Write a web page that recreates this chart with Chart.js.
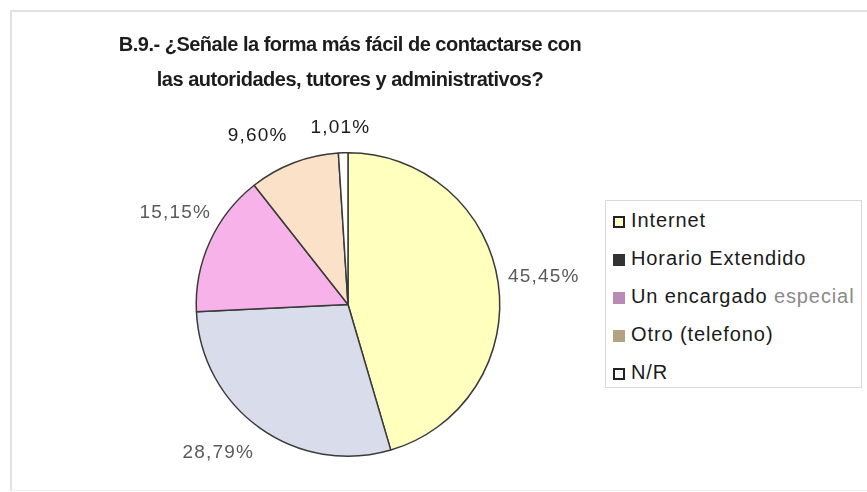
<!DOCTYPE html>
<html>
<head>
<meta charset="utf-8">
<script src="https://cdn.jsdelivr.net/npm/chart.js@4/dist/chart.umd.min.js"></script>
<style>
  body { margin: 0; background: #fff; }
  #wrap { position: relative; width: 867px; height: 492px; overflow: hidden; }
  #frame { position: absolute; left: 10px; top: 10px; width: 870px; height: 478px;
           border-left: 2px solid #e2e2e2; border-top: 2px solid #e2e2e2; border-bottom: 1px solid #f0f0f0; }
  #title { position: absolute; left: 0; width: 700px; top: 27px; text-align: center;
           font-family: "Liberation Sans", Arial, sans-serif; font-weight: bold; font-size: 20px;
           line-height: 35px; color: #1c1c1c; letter-spacing: -0.5px; }
  #legend { position: absolute; left: 605px; top: 200px; width: 257px; height: 188px;
            border: 1px solid #d8d8d8; box-sizing: border-box; background: #fff;
            font-family: "Liberation Sans", Arial, sans-serif; font-size: 20px; color: #1a1a1a; }
  .item { position: absolute; left: 7px; height: 22px; line-height: 22px; white-space: nowrap; letter-spacing: 0.9px; }
  .box { display: inline-block; width: 12px; height: 12px; margin-right: 6px; vertical-align: -1px; box-sizing: border-box; }
  canvas { position: absolute; left: 0; top: 0; }
</style>
</head>
<body>
<div id="wrap">
  <div id="frame"></div>
  <canvas id="pie" width="867" height="492"></canvas>
  <div id="title">B.9.- ¿Señale la forma más fácil de contactarse con<br>las autoridades, tutores y administrativos?</div>
  <div id="legend"></div>
</div>
<script>
const categories = ['Internet', 'Horario Extendido', 'Un encargado especial', 'Otro (telefono)', 'N/R'];
const values = [45.45, 28.79, 15.15, 9.60, 1.01];
const valueLabels = ['45,45%', '28,79%', '15,15%', '9,60%', '1,01%'];

const sliceColors = ['#FFFFBE', '#D9DCEB', '#F6B2E9', '#FCE1C9', '#FFFFFF'];
const legendColors = ['#FFFFC8', '#333333', '#B88AB4', '#B3A382', '#FFFFFF'];
const legendBorders = ['#222', '#333', '#B88AB4', '#B3A382', '#222'];
const labelColors = ['#5a5a5a', '#5a5a5a', '#5a5a5a', '#1a1a1a', '#1a1a1a'];
// distance of each label from the pie edge, and small nudges
const labelGap = [46, 34, 49, 34, 25];
const labelShift = [[0, 0], [-22, -3], [10, -8], [-24, 5], [-2, 0]];

function renderLegend() {
    const legend = document.getElementById('legend');
    for (let i = 0; i < categories.length; ++i) {
        const row = document.createElement('div');
        row.className = 'item';
        row.style.top = (8 + i * 38) + 'px';
        const box = document.createElement('span');
        box.className = 'box';
        box.style.background = legendColors[i];
        box.style.border = '2px solid ' + legendBorders[i];
        row.appendChild(box);
        if (categories[i] === 'Un encargado especial') {
            row.appendChild(document.createTextNode('Un encargado '));
            const s = document.createElement('span');
            s.style.color = '#8a8a8a';
            s.textContent = 'especial';
            row.appendChild(s);
        } else {
            row.appendChild(document.createTextNode(categories[i]));
        }
        legend.appendChild(row);
    }
}

const sliceLabels = {
    id: 'sliceLabels',
    afterDatasetsDraw(chart) {
        const ctx = chart.ctx;
        const arcs = chart.getDatasetMeta(0).data;
        ctx.save();
        ctx.font = '19px "Liberation Sans", Arial, sans-serif';
        ctx.letterSpacing = '1.2px';
        ctx.textAlign = 'center';
        ctx.textBaseline = 'middle';
        arcs.forEach(function (arc, i) {
            const mid = (arc.startAngle + arc.endAngle) / 2;
            const r = arc.outerRadius + labelGap[i];
            const x = arc.x + Math.cos(mid) * r + labelShift[i][0];
            const y = arc.y + Math.sin(mid) * r + labelShift[i][1];
            ctx.fillStyle = labelColors[i];
            ctx.fillText(valueLabels[i], x, y);
        });
        ctx.restore();
    }
};

function renderChart() {
    const chartID = document.getElementById('pie').getContext('2d');
    new Chart(chartID, {
        type: 'pie',
        data: {
            labels: categories,
            datasets: [{
                data: values,
                backgroundColor: sliceColors,
                borderColor: '#3a3a3a',
                borderWidth: 1.5
            }]
        },
        options: {
            responsive: false,
            animation: false,
            layout: { padding: { left: 195, right: 366, top: 152, bottom: 35 } },
            plugins: {
                legend: { display: false },
                title: { display: false },
                tooltip: { enabled: false }
            }
        },
        plugins: [sliceLabels]
    });
}

renderLegend();
renderChart();
</script>
</body>
</html>
